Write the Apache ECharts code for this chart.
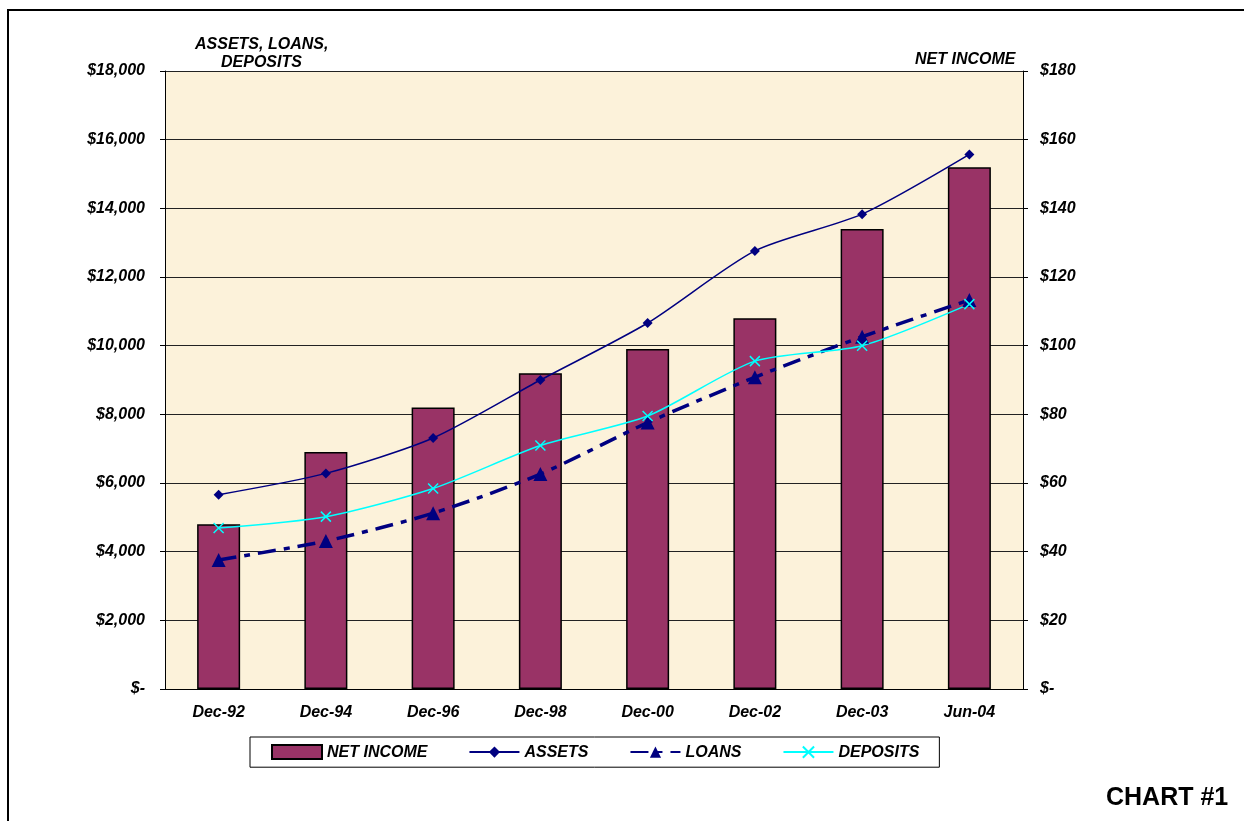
<!DOCTYPE html>
<html>
<head>
<meta charset="utf-8">
<script src="https://cdn.jsdelivr.net/npm/echarts@6/dist/echarts.min.js"></script>
<style>
  html, body { margin: 0; padding: 0; background: #fff; }
  #chart1 { width: 1244px; height: 821px; }
</style>
</head>
<body>
<div id="chart1"></div>
<script>
var categories = ['Dec-92', 'Dec-94', 'Dec-96', 'Dec-98', 'Dec-00', 'Dec-02', 'Dec-03', 'Jun-04'];
var netIncome = [48, 69, 82, 92, 99, 108, 134, 152];
var assets = [5660, 6280, 7310, 9000, 10660, 12760, 13830, 15570];
var loans = [3760, 4310, 5120, 6260, 7760, 9080, 10260, 11330];
var deposits = [4690, 5020, 5840, 7090, 7950, 9550, 10000, 11210];

var chart1 = echarts.init(document.getElementById('chart1'), null, {renderer: 'canvas'});

var FONT = 'Liberation Sans, Arial, sans-serif';
var lbl = {color: '#000', fontFamily: FONT, fontWeight: 'bold', fontStyle: 'italic', fontSize: 16};

function money(v) {
    if (v === 0) return '$-';
    return '$' + v.toString().replace(/\B(?=(\d{3})+(?!\d))/g, ',');
}

var option1 = {
    animation: false,
    backgroundColor: '#fff',
    grid: {
        left: 165, right: 221, top: 71, bottom: 132,
        show: true,
        backgroundColor: '#fcf2da',
        borderWidth: 0
    },
    legend: {
        left: 250, top: 737,
        padding: [7, 20, 7, 21],
        itemGap: 41,
        itemWidth: 50, itemHeight: 14,
        borderColor: '#000', borderWidth: 1,
        backgroundColor: '#fff',
        textStyle: lbl,
        data: [{name: 'NET INCOME', icon: 'rect'}, 'ASSETS', 'LOANS', 'DEPOSITS']
    },
    xAxis: {
        type: 'category',
        data: categories,
        axisLine: {lineStyle: {color: '#000', width: 1}},
        axisTick: {length: 5, lineStyle: {color: '#000'}},
        axisLabel: Object.assign({margin: 16}, lbl)
    },
    yAxis: [
        {
            type: 'value', min: 0, max: 18000, interval: 2000,
            axisLine: {show: true, lineStyle: {color: '#000'}},
            axisTick: {show: true, length: 5, lineStyle: {color: '#000'}},
            splitLine: {lineStyle: {color: '#222', width: 1}},
            axisLabel: Object.assign({margin: 20, formatter: money}, lbl)
        },
        {
            type: 'value', min: 0, max: 180, interval: 20,
            position: 'right',
            axisLine: {show: true, lineStyle: {color: '#000'}},
            axisTick: {show: true, length: 5, lineStyle: {color: '#000'}},
            splitLine: {show: false},
            axisLabel: Object.assign({margin: 17, formatter: money}, lbl)
        }
    ],
    series: [
        {
            name: 'NET INCOME',
            type: 'bar',
            yAxisIndex: 1,
            data: netIncome,
            barWidth: 43,
            itemStyle: {color: '#993366', borderColor: '#000', borderWidth: 1.5}
        },
        {
            name: 'ASSETS',
            type: 'line',
            data: assets,
            smooth: 0.25,
            symbol: 'diamond',
            symbolSize: 10,
            itemStyle: {color: '#000080'},
            lineStyle: {color: '#000080', width: 1.5}
        },
        {
            name: 'LOANS',
            type: 'line',
            data: loans,
            smooth: 0.25,
            symbol: 'triangle',
            symbolSize: 14,
            itemStyle: {color: '#000080'},
            lineStyle: {color: '#000080', width: 3.5, type: [18, 8, 6, 8]}
        },
        {
            name: 'DEPOSITS',
            type: 'line',
            data: deposits,
            smooth: 0.25,
            symbol: 'path://M0,0L10,10M10,0L0,10',
            symbolSize: 10,
            itemStyle: {color: 'none', borderColor: '#00ffff', borderWidth: 1.5},
            lineStyle: {color: '#00ffff', width: 1.5}
        }
    ],
    graphic: [
        {
            type: 'rect',
            shape: {x: 8, y: 10, width: 1260, height: 840},
            style: {fill: 'none', stroke: '#000', lineWidth: 2},
            silent: true
        },
        {
            type: 'text', left: 195, top: 37,
            style: {text: 'ASSETS, LOANS,', fill: '#000', font: 'italic bold 16px ' + FONT}
        },
        {
            type: 'text', left: 221, top: 55,
            style: {text: 'DEPOSITS', fill: '#000', font: 'italic bold 16px ' + FONT}
        },
        {
            type: 'text', left: 915, top: 52,
            style: {text: 'NET INCOME', fill: '#000', font: 'italic bold 16px ' + FONT}
        },
        {
            type: 'text', left: 1106, top: 786,
            style: {text: 'CHART #1', fill: '#000', font: 'bold 25px ' + FONT}
        }
    ]
};

chart1.setOption(option1);
</script>
</body>
</html>
